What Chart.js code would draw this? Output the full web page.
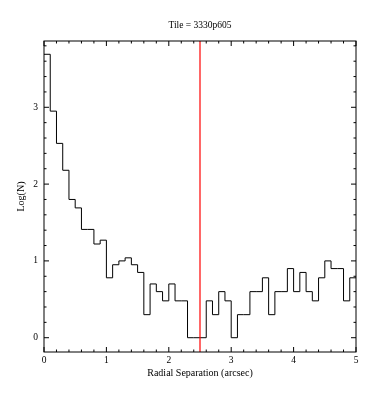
<!DOCTYPE html>
<html>
<head>
<meta charset="utf-8">
<script src="https://cdn.jsdelivr.net/npm/chart.js@4/dist/chart.umd.min.js"></script>
<style>
  html, body { margin: 0; padding: 0; background: #fff; }
  #wrap { width: 375px; height: 401px; }
</style>
</head>
<body>
<div id="wrap"><canvas id="histChart" width="375" height="401"></canvas></div>
<script>
// left edge of each 0.1 arcsec bin
const binLeft = [0.0, 0.1, 0.2, 0.3, 0.4, 0.5, 0.6, 0.7, 0.8, 0.9,
                 1.0, 1.1, 1.2, 1.3, 1.4, 1.5, 1.6, 1.7, 1.8, 1.9,
                 2.0, 2.1, 2.2, 2.3, 2.4, 2.5, 2.6, 2.7, 2.8, 2.9,
                 3.0, 3.1, 3.2, 3.3, 3.4, 3.5, 3.6, 3.7, 3.8, 3.9,
                 4.0, 4.1, 4.2, 4.3, 4.4, 4.5, 4.6, 4.7, 4.8, 4.9];
const binEnd = 5.0;

// Log(N) per bin
const logN = [3.69, 2.95, 2.53, 2.18, 1.80, 1.69, 1.41, 1.41, 1.22, 1.27,
              0.78, 0.95, 1.00, 1.04, 0.95, 0.85, 0.30, 0.70, 0.60, 0.48,
              0.70, 0.48, 0.48, 0.00, 0.00, 0.00, 0.48, 0.30, 0.60, 0.48,
              0.00, 0.30, 0.30, 0.60, 0.60, 0.78, 0.30, 0.60, 0.60, 0.90,
              0.60, 0.85, 0.60, 0.48, 0.78, 1.00, 0.90, 0.90, 0.48, 0.78];

const xTicks = [0, 1, 2, 3, 4, 5];
const yTicks = [0, 1, 2, 3];
const cutX = 2.5;
const yMin = -0.186, yMax = 3.863;

const titleText = 'Tile = 3330p605';
const serif = '"Liberation Serif", "DejaVu Serif", serif';

// step points: one per bin plus the closing edge
const histPoints = binLeft.map((x, i) => ({ x: x, y: logN[i] }));
histPoints.push({ x: binEnd, y: logN[logN.length - 1] });

// frame, inward ticks on all sides, and title
const framePlugin = {
    id: 'frame',
    afterDraw(chart) {
        const ctx = chart.ctx;
        const a = chart.chartArea;
        const xs = chart.scales.x, ys = chart.scales.y;
        ctx.save();
        ctx.strokeStyle = '#000';
        ctx.lineWidth = 1;
        ctx.strokeRect(a.left, a.top, a.right - a.left, a.bottom - a.top);
        ctx.beginPath();
        for (let k = 0; k <= 25; k++) {
            const v = k * 0.2;
            const px = xs.getPixelForValue(v);
            const len = (k % 5 === 0) ? 5 : 2.5;
            ctx.moveTo(px, a.bottom); ctx.lineTo(px, a.bottom - len);
            ctx.moveTo(px, a.top); ctx.lineTo(px, a.top + len);
        }
        for (let k = 0; k <= 19; k++) {
            const v = k * 0.2;
            if (v > yMax) break;
            const py = ys.getPixelForValue(v);
            const len = (k % 5 === 0) ? 5 : 2.5;
            ctx.moveTo(a.left, py); ctx.lineTo(a.left + len, py);
            ctx.moveTo(a.right, py); ctx.lineTo(a.right - len, py);
        }
        ctx.stroke();
        ctx.fillStyle = '#000';
        ctx.font = '9.5px ' + serif;
        ctx.textAlign = 'center';
        ctx.textBaseline = 'middle';
        ctx.fillText(titleText, (a.left + a.right) / 2, 25);
        ctx.restore();
    }
};

const ctx = document.getElementById('histChart').getContext('2d');
new Chart(ctx, {
    type: 'line',
    data: {
        datasets: [{
            label: 'cut',
            data: [{ x: cutX, y: yMin }, { x: cutX, y: yMax }],
            borderColor: '#ff0000',
            borderWidth: 1.2,
            pointRadius: 0,
            order: 0
        }, {
            label: 'Log(N)',
            data: histPoints,
            stepped: 'before',
            borderColor: '#000',
            borderWidth: 1,
            pointRadius: 0,
            fill: false,
            order: 1
        }]
    },
    options: {
        responsive: false,
        animation: false,
        layout: { padding: { top: 41, right: 19, bottom: 0, left: 0 } },
        plugins: {
            legend: { display: false },
            tooltip: { enabled: false }
        },
        scales: {
            x: {
                type: 'linear',
                min: 0,
                max: 5,
                grid: { display: false, drawTicks: false },
                border: { display: false },
                afterBuildTicks: s => { s.ticks = xTicks.map(v => ({ value: v })); },
                afterFit: s => { s.height = 49; },
                ticks: { color: '#000', padding: 3, maxRotation: 0, font: { family: serif, size: 9.5 } },
                title: {
                    display: true,
                    text: 'Radial Separation (arcsec)',
                    color: '#000',
                    font: { family: serif, size: 10 },
                    padding: { top: 0, bottom: 22 }
                }
            },
            y: {
                type: 'linear',
                min: yMin,
                max: yMax,
                grid: { display: false, drawTicks: false },
                border: { display: false },
                afterBuildTicks: s => { s.ticks = yTicks.map(v => ({ value: v })); },
                afterFit: s => { s.width = 44; },
                ticks: { color: '#000', padding: 6, font: { family: serif, size: 9.5 } },
                title: {
                    display: true,
                    text: 'Log(N)',
                    color: '#000',
                    font: { family: serif, size: 10 },
                    padding: { top: 15, bottom: 0 }
                }
            }
        }
    },
    plugins: [framePlugin]
});
</script>
</body>
</html>
